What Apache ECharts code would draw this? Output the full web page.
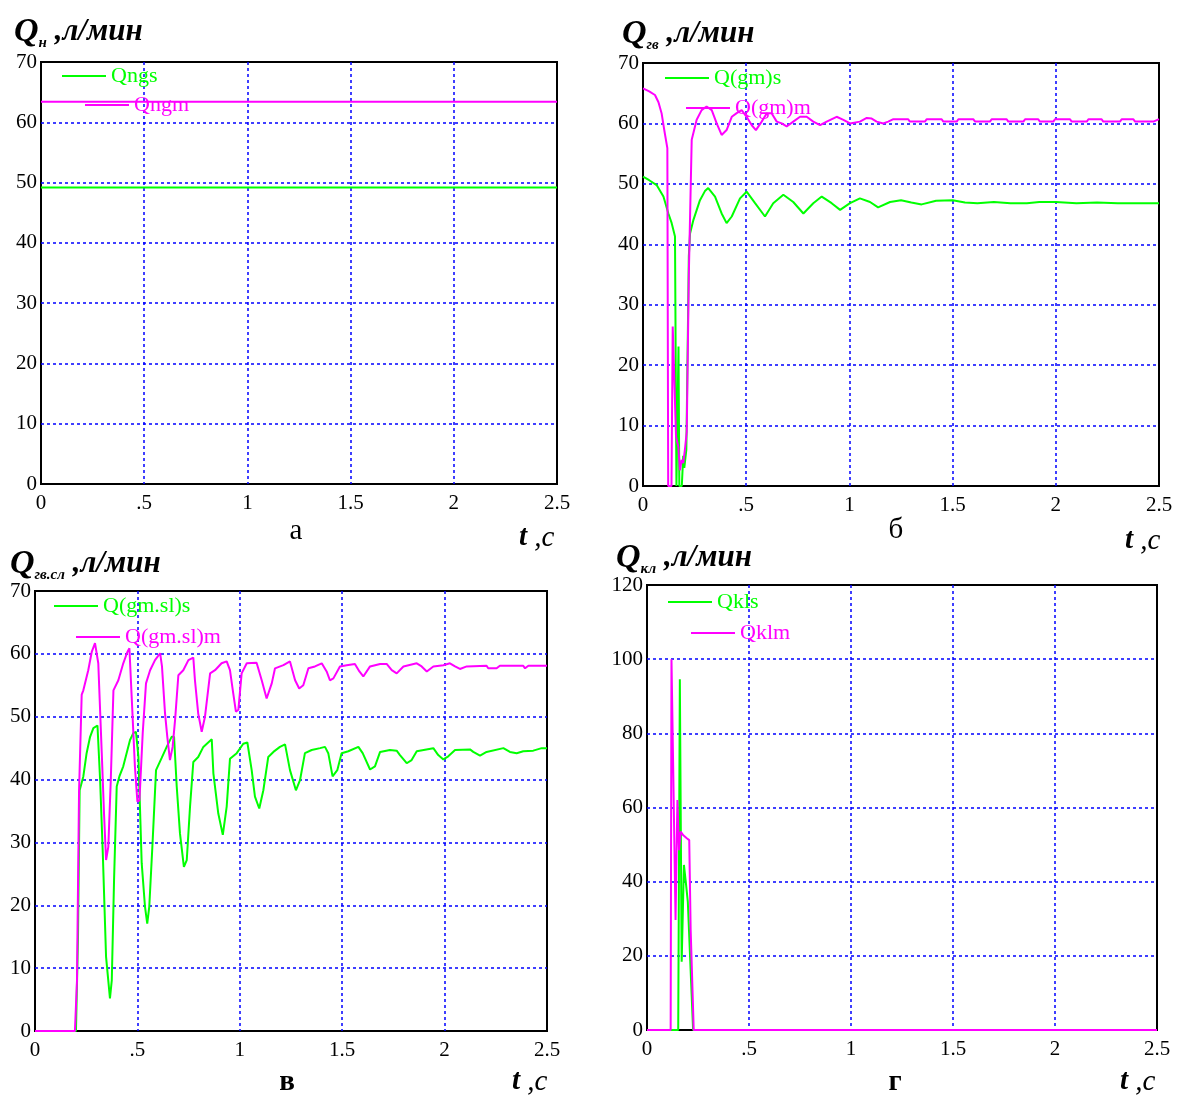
<!DOCTYPE html>
<html><head><meta charset="utf-8">
<script src="https://cdn.jsdelivr.net/npm/echarts@6/dist/echarts.min.js"></script>
<style>html,body{margin:0;padding:0;background:#fff}#c{width:1183px;height:1095px}</style>
</head><body><div id="c"></div><script>
// ---------- data ----------
const xTicks = [0, 0.5, 1, 1.5, 2, 2.5];
const xTickLabels = ['0', '.5', '1', '1.5', '2', '2.5'];

// panel а
const qngs = [[0, 49.2], [2.5, 49.2]];
const qngm = [[0, 63.4], [2.5, 63.4]];

// panel б
const qgmS = [[0,51.2],[0.03,50.6],[0.066,49.8],[0.099,47.9],[0.123,45.1],[0.139,43.5],[0.155,41.3],[0.158,41.0],[0.162,0],[0.168,0],[0.172,23.1],[0.176,0],[0.188,0],[0.195,5],[0.2,3],[0.21,6],[0.222,38],[0.228,41.8],[0.244,44.0],[0.276,47.3],[0.3,48.8],[0.316,49.3],[0.349,47.9],[0.381,45.1],[0.405,43.5],[0.43,44.6],[0.47,47.6],[0.502,48.7],[0.543,46.8],[0.591,44.6],[0.631,46.8],[0.68,48.2],[0.728,47.0],[0.777,45.1],[0.825,46.8],[0.866,47.9],[0.914,46.8],[0.955,45.7],[1.003,46.8],[1.051,47.6],[1.1,47.0],[1.139,46.1],[1.197,47.0],[1.25,47.3],[1.3,46.9],[1.35,46.6],[1.42,47.2],[1.5,47.3],[1.56,46.9],[1.62,46.8],[1.7,47.0],[1.78,46.8],[1.86,46.8],[1.92,47.0],[2.0,47.0],[2.1,46.8],[2.2,46.9],[2.3,46.8],[2.5,46.8]];
const qgmM = [[0,65.8],[0.03,65.3],[0.058,64.7],[0.075,63.5],[0.09,61.7],[0.105,58.5],[0.118,55.9],[0.122,0],[0.138,0],[0.144,26.4],[0.152,26.6],[0.16,8.2],[0.171,6.5],[0.179,2.6],[0.187,4.3],[0.195,3.8],[0.203,6.0],[0.212,9],[0.222,35],[0.236,57.3],[0.26,60.6],[0.284,62.2],[0.308,62.8],[0.333,62.2],[0.357,60.0],[0.381,58.1],[0.405,58.9],[0.43,61.1],[0.454,61.7],[0.478,62.2],[0.502,61.1],[0.527,59.7],[0.547,58.9],[0.575,60.3],[0.6,61.7],[0.623,61.7],[0.648,60.3],[0.672,60.0],[0.696,59.5],[0.728,60.3],[0.761,61.1],[0.793,61.1],[0.825,60.3],[0.858,59.7],[0.89,60.3],[0.938,61.1],[0.971,60.6],[1.003,60.0],[1.051,60.3],[1.084,60.9],[1.108,60.8],[1.132,60.3],[1.164,60.0],[1.188,60.3],[1.213,60.7],[1.285,60.7],[1.293,60.3],[1.366,60.3],[1.374,60.7],[1.447,60.7],[1.455,60.3],[1.52,60.3],[1.528,60.7],[1.6,60.7],[1.609,60.3],[1.681,60.3],[1.689,60.7],[1.762,60.7],[1.77,60.3],[1.843,60.3],[1.851,60.7],[1.915,60.7],[1.923,60.3],[1.988,60.3],[1.996,60.7],[2.069,60.7],[2.077,60.3],[2.15,60.3],[2.158,60.7],[2.222,60.7],[2.23,60.3],[2.311,60.3],[2.319,60.7],[2.376,60.7],[2.384,60.3],[2.473,60.3],[2.5,60.7]];

// panel в
const qgmslS = [[0,0],[0.2,0],[0.21,15],[0.218,38.3],[0.236,40.5],[0.252,44.2],[0.269,46.8],[0.285,48.2],[0.305,48.6],[0.309,48.4],[0.318,39.9],[0.331,28.3],[0.347,11.8],[0.366,5.2],[0.375,8.1],[0.386,24.0],[0.399,38.9],[0.412,40.5],[0.431,42.1],[0.464,46.3],[0.48,47.4],[0.493,47.6],[0.505,43.6],[0.521,26.7],[0.537,19.8],[0.548,17.1],[0.558,19.8],[0.574,29.9],[0.591,41.5],[0.618,43.4],[0.643,45.2],[0.667,46.8],[0.679,46.8],[0.692,38.9],[0.708,31.4],[0.727,26.1],[0.741,27.2],[0.757,35.7],[0.773,42.8],[0.797,43.6],[0.822,45.2],[0.863,46.4],[0.871,41.0],[0.895,34.6],[0.917,31.2],[0.936,35.7],[0.952,43.3],[0.985,44.2],[1.017,45.7],[1.037,45.9],[1.058,41.5],[1.074,37.3],[1.095,35.4],[1.115,38.3],[1.139,43.6],[1.164,44.4],[1.196,45.2],[1.221,45.6],[1.245,41.5],[1.274,38.3],[1.294,39.9],[1.318,44.2],[1.351,44.7],[1.392,45.0],[1.416,45.2],[1.432,44.2],[1.453,40.5],[1.476,41.5],[1.497,44.2],[1.53,44.5],[1.579,45.2],[1.6,44.2],[1.636,41.6],[1.66,42.1],[1.685,44.4],[1.733,44.7],[1.766,44.6],[1.782,43.9],[1.815,42.6],[1.839,43.1],[1.864,44.5],[1.945,45.0],[1.969,43.9],[1.994,43.2],[2.018,43.7],[2.051,44.7],[2.124,44.8],[2.14,44.4],[2.173,43.8],[2.205,44.4],[2.287,45.0],[2.319,44.4],[2.352,44.2],[2.384,44.5],[2.433,44.6],[2.474,45.0],[2.5,45.0]];
const qgmslM = [[0,0],[0.195,0],[0.205,8],[0.215,38],[0.228,53.5],[0.236,54.2],[0.26,57.4],[0.277,60.3],[0.293,61.7],[0.301,61.9],[0.309,58.5],[0.326,44.2],[0.337,34.6],[0.347,27.2],[0.358,29.3],[0.37,39.9],[0.383,54.2],[0.407,55.8],[0.431,58.5],[0.451,60.3],[0.461,60.9],[0.472,53.2],[0.488,42.0],[0.5,36.5],[0.51,36.7],[0.526,47.4],[0.542,55.3],[0.562,57.4],[0.586,59.0],[0.611,60.1],[0.62,58.0],[0.635,50.5],[0.646,46.8],[0.659,43.1],[0.672,45.2],[0.684,49.5],[0.7,56.6],[0.724,57.4],[0.749,59.0],[0.773,59.4],[0.781,55.8],[0.797,50.5],[0.814,47.6],[0.83,50.0],[0.855,56.9],[0.879,57.4],[0.911,58.5],[0.936,58.8],[0.952,57.4],[0.968,53.7],[0.981,50.8],[0.993,51.1],[1.009,56.9],[1.034,58.5],[1.082,58.6],[1.107,55.8],[1.131,52.9],[1.156,55.3],[1.172,57.7],[1.213,58.2],[1.245,58.8],[1.27,55.8],[1.29,54.5],[1.31,55.0],[1.335,57.7],[1.367,58.0],[1.4,58.5],[1.424,57.2],[1.44,55.8],[1.457,56.1],[1.489,58.0],[1.522,58.2],[1.562,58.4],[1.584,57.2],[1.603,56.4],[1.636,58.0],[1.685,58.4],[1.717,58.4],[1.742,57.4],[1.766,56.9],[1.799,58.0],[1.864,58.5],[1.888,58.0],[1.913,57.2],[1.945,58.0],[1.994,58.2],[2.026,58.5],[2.051,58.0],[2.075,57.6],[2.108,58.0],[2.205,58.1],[2.213,57.7],[2.254,57.7],[2.27,58.1],[2.384,58.1],[2.393,57.7],[2.409,58.1],[2.5,58.1]];

// panel г
const qklS = [[0,0],[0.153,0],[0.161,94.6],[0.17,18.4],[0.181,44.5],[0.19,40.0],[0.2,34.6],[0.204,34.6],[0.226,0],[2.5,0]];
const qklM = [[0,0],[0.116,0],[0.12,100],[0.126,100],[0.14,29.7],[0.149,62.0],[0.157,48.5],[0.165,53.5],[0.17,53.9],[0.178,52.5],[0.186,52.3],[0.195,51.7],[0.207,51.2],[0.214,27],[0.229,0],[2.5,0]];

// ---------- layout / styling ----------
const FONT = '"Liberation Serif", "Times New Roman", serif';
const GREEN = '#00ff00', MAGENTA = '#ff00ff';

const panels = [
  { grid: {left: 41, top: 62, width: 516, height: 422}, yMax: 70, yStep: 10,
    s: {name: 'Qngs', data: qngs}, m: {name: 'Qngm', data: qngm},
    leg: [[62, 65], [85, 94]], title: {left: 14, top: 13, sub: 'н'},
    label: {text: 'а', x: 296, y: 531, bold: false}, tc: {x: 519, y: 538} },
  { grid: {left: 643, top: 63, width: 516, height: 423}, yMax: 70, yStep: 10,
    s: {name: 'Q(gm)s', data: qgmS}, m: {name: 'Q(gm)m', data: qgmM},
    leg: [[665, 67], [686, 97]], title: {left: 622, top: 15, sub: 'гв'},
    label: {text: 'б', x: 896, y: 530, bold: false}, tc: {x: 1125, y: 541} },
  { grid: {left: 35, top: 591, width: 512, height: 440}, yMax: 70, yStep: 10,
    s: {name: 'Q(gm.sl)s', data: qgmslS}, m: {name: 'Q(gm.sl)m', data: qgmslM},
    leg: [[54, 595], [76, 626]], title: {left: 10, top: 545, sub: 'гв.сл'},
    label: {text: 'в', x: 287, y: 1083, bold: true}, tc: {x: 512, y: 1082} },
  { grid: {left: 647, top: 585, width: 510, height: 445}, yMax: 120, yStep: 20,
    s: {name: 'Qkls', data: qklS}, m: {name: 'Qklm', data: qklM},
    leg: [[668, 591], [691, 622]], title: {left: 616, top: 539, sub: 'кл'},
    label: {text: 'г', x: 895, y: 1083, bold: true}, tc: {x: 1120, y: 1082} }
];

const titleRich = {
  q: {fontFamily: FONT, fontSize: 34, fontStyle: 'italic', fontWeight: 'bold', color: '#000', lineHeight: 38},
  s: {fontFamily: FONT, fontSize: 15, fontStyle: 'italic', fontWeight: 'bold', color: '#000', lineHeight: 15, verticalAlign: 'bottom'},
  u: {fontFamily: FONT, fontSize: 31, fontStyle: 'italic', color: '#000', lineHeight: 38}
};

const option = {
  animation: false,
  backgroundColor: '#fff',
  title: panels.map(p => ({
    left: p.title.left, top: p.title.top, padding: 0,
    text: '{q|Q}{s|' + p.title.sub + '}{u| ,л/мин}',
    textStyle: {rich: titleRich}
  })),
  grid: panels.map(p => Object.assign({show: true, borderColor: '#000', borderWidth: 2,
    backgroundColor: 'transparent', containLabel: false}, p.grid)),
  xAxis: panels.map((p, i) => ({
    gridIndex: i, type: 'value', min: 0, max: 2.5, interval: 0.5,
    axisLine: {show: false}, axisTick: {show: false},
    splitLine: {show: true, showMinLine: false, showMaxLine: false,
      lineStyle: {color: '#0000ff', width: 1.5, type: [3, 3]}},
    axisLabel: {fontFamily: FONT, fontSize: 21, color: '#000', margin: 9,
      formatter: v => { const k = xTicks.findIndex(t => Math.abs(t - v) < 1e-9); return k >= 0 ? xTickLabels[k] : String(v); }}
  })),
  yAxis: panels.map((p, i) => ({
    gridIndex: i, type: 'value', min: 0, max: p.yMax, interval: p.yStep,
    axisLine: {show: false}, axisTick: {show: false},
    splitLine: {show: true, showMinLine: false, showMaxLine: false,
      lineStyle: {color: '#0000ff', width: 1.5, type: [3, 3]}},
    axisLabel: {fontFamily: FONT, fontSize: 21, color: '#000', margin: 4}
  })),
  legend: panels.flatMap(p => [
    {name: p.s.name, color: GREEN, pos: p.leg[0]},
    {name: p.m.name, color: MAGENTA, pos: p.leg[1]}
  ].map(l => ({
    data: [l.name], left: l.pos[0], top: l.pos[1], padding: 0,
    icon: 'rect', itemWidth: 44, itemHeight: 2, selectedMode: false,
    textStyle: {color: l.color, fontFamily: FONT, fontSize: 22}
  }))),
  series: panels.flatMap((p, i) => [
    {name: p.s.name, data: p.s.data, color: GREEN},
    {name: p.m.name, data: p.m.data, color: MAGENTA}
  ].map(s => ({
    type: 'line', name: s.name, xAxisIndex: i, yAxisIndex: i, data: s.data,
    showSymbol: false, symbol: 'none', color: s.color,
    lineStyle: {color: s.color, width: 2}, itemStyle: {color: s.color}
  }))),
  graphic: panels.flatMap(p => [
    {type: 'text', x: p.label.x, y: p.label.y, style: {
      text: p.label.text, fill: '#000', align: 'center', verticalAlign: 'middle',
      font: (p.label.bold ? 'bold ' : '') + '29px ' + FONT}},
    {type: 'text', x: p.tc.x, y: p.tc.y, style: {
      text: '{t|t}{c| ,c}', align: 'left', verticalAlign: 'middle',
      rich: {t: {fontFamily: FONT, fontSize: 29, fontStyle: 'italic', fontWeight: 'bold', fill: '#000'},
             c: {fontFamily: FONT, fontSize: 29, fontStyle: 'italic', fill: '#000'}}}}
  ])
};

const chart = echarts.init(document.getElementById('c'), null, {renderer: 'canvas'});
chart.setOption(option);
</script></body></html>
